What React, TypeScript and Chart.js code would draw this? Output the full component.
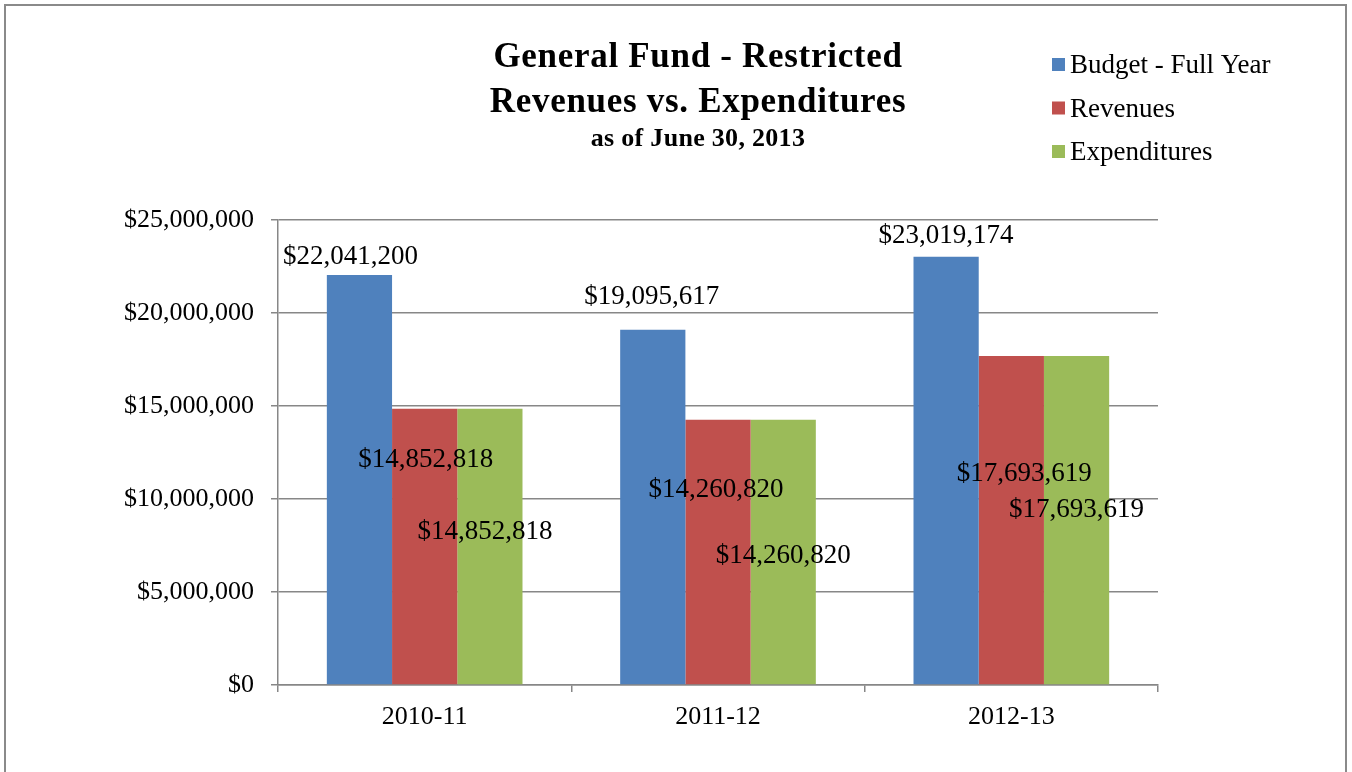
import React, { useEffect, useRef } from "react";
import { Chart, registerables } from "chart.js";

Chart.register(...registerables);

const categories = ["2010-11", "2011-12", "2012-13"];
const seriesNames = ["Budget - Full Year", "Revenues", "Expenditures"];
const budget = [22041200, 19095617, 23019174];
const revenues = [14852818, 14260820, 17693619];
const expenditures = [14852818, 14260820, 17693619];
const colors = ["#4F81BD", "#C0504D", "#9BBB59"];
const yTicks = [0, 5000000, 10000000, 15000000, 20000000, 25000000];
const titleLines = ["General Fund - Restricted", "Revenues vs. Expenditures"];
const subtitle = "as of June 30, 2013";

// label offsets (px) relative to the top-centre of each bar, per series
const labelOffsets = [
  [[-9, -18], [-1, -33], [0, -21]],
  [[1, 51], [-2, 70], [13, 118]],
  [[-5, 123], [0, 136], [0, 154]],
];

const SERIF = "'Liberation Serif', 'Times New Roman', serif";

const fmt = (v: number) => "$" + v.toLocaleString("en-US");

const decorPlugin = {
  id: "decor",
  beforeDraw(chart: any) {
    const ctx = chart.ctx;
    ctx.save();
    ctx.fillStyle = "#ffffff";
    ctx.fillRect(0, 0, chart.width, chart.height);
    ctx.strokeStyle = "#8a8a8a";
    ctx.lineWidth = 2;
    ctx.strokeRect(5, 5, 1341, 820);
    ctx.restore();
  },
  afterDraw(chart: any) {
    const ctx = chart.ctx;
    ctx.save();
    ctx.fillStyle = "#000000";
    ctx.textAlign = "center";
    ctx.textBaseline = "middle";
    ctx.font = `bold 35px ${SERIF}`;
    (ctx as any).letterSpacing = "0.7px";
    ctx.fillText(titleLines[0], 698, 58);
    ctx.fillText(titleLines[1], 698, 103);
    ctx.font = `bold 26px ${SERIF}`;
    (ctx as any).letterSpacing = "0.3px";
    ctx.fillText(subtitle, 698, 139);
    (ctx as any).letterSpacing = "0px";
    // legend
    ctx.textAlign = "left";
    ctx.font = `27px ${SERIF}`;
    seriesNames.forEach((n, i) => {
      const y = 65 + i * 43.5;
      ctx.fillStyle = colors[i];
      ctx.fillRect(1052, y - 7, 13, 13);
      ctx.fillStyle = "#000000";
      ctx.fillText(n, 1070, y + 1);
    });
    ctx.restore();
  },
  afterDatasetsDraw(chart: any) {
    const ctx = chart.ctx;
    ctx.save();
    ctx.fillStyle = "#000000";
    ctx.textAlign = "center";
    ctx.textBaseline = "middle";
    ctx.font = `27px ${SERIF}`;
    chart.data.datasets.forEach((ds: any, i: number) => {
      const meta = chart.getDatasetMeta(i);
      meta.data.forEach((bar: any, j: number) => {
        const [dx, dy] = labelOffsets[i][j];
        ctx.fillText(fmt(ds.data[j]), bar.x + dx, bar.y + dy);
      });
    });
    ctx.restore();
  },
};

export default function App() {
  const ref = useRef<HTMLCanvasElement>(null);
  useEffect(() => {
    document.body.style.margin = "0";
    const chart = new Chart(ref.current!, {
      type: "bar",
      data: {
        labels: categories,
        datasets: [budget, revenues, expenditures].map((d, i) => ({
          label: seriesNames[i],
          data: d,
          backgroundColor: colors[i],
          borderWidth: 0,
          categoryPercentage: 0.667,
          barPercentage: 1.0,
        })),
      },
      options: {
        responsive: false,
        animation: false,
        layout: { padding: { left: 0, top: 220, right: 194, bottom: 0 } },
        plugins: {
          legend: { display: false },
          title: { display: false },
          tooltip: { enabled: false },
        },
        scales: {
          x: {
            grid: {
              offset: true,
              drawOnChartArea: false,
              drawTicks: true,
              tickLength: 7,
              color: "#878787",
              lineWidth: 1.5,
            },
            border: { color: "#878787", width: 1.5 },
            ticks: {
              color: "#000000",
              padding: 10,
              font: { family: SERIF, size: 26 },
            },
            afterFit: (s: any) => {
              s.height = 87;
            },
          },
          y: {
            min: 0,
            max: 25000000,
            afterBuildTicks: (s: any) => {
              s.ticks = yTicks.map((v) => ({ value: v }));
            },
            grid: {
              color: "#878787",
              lineWidth: 1.5,
              tickLength: 7,
            },
            border: { color: "#878787", width: 1.5 },
            ticks: {
              color: "#000000",
              padding: 17,
              font: { family: SERIF, size: 26 },
              callback: (v: any) => fmt(Number(v)),
            },
            afterFit: (s: any) => {
              s.width = 278;
            },
          },
        },
      },
      plugins: [decorPlugin],
    });
    return () => chart.destroy();
  }, []);
  return (
    <div style={{ width: 1352, height: 772 }}>
      <canvas ref={ref} width={1352} height={772} />
    </div>
  );
}
